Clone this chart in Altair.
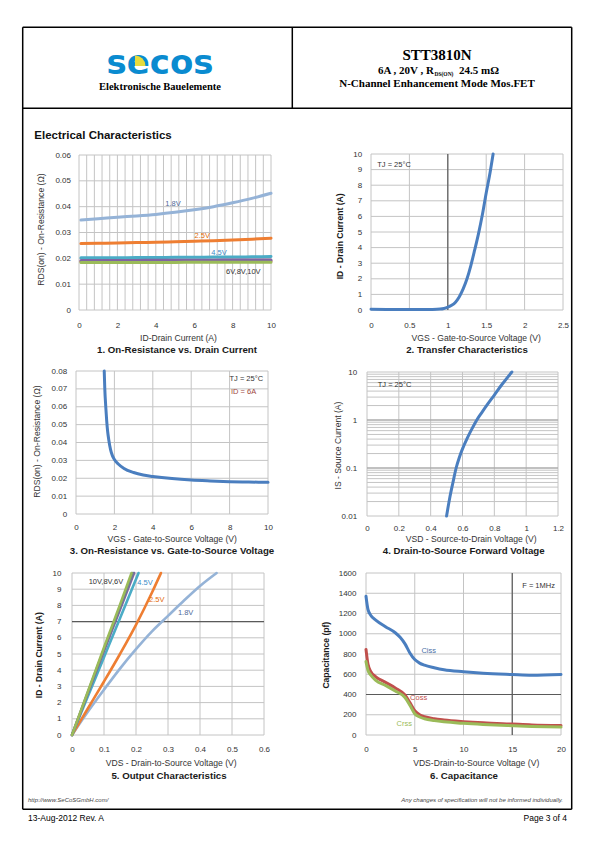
import altair as alt
import pandas as pd

W, H = 579, 826
SANS = "Liberation Sans"
SERIF = "Liberation Serif"
GRID = "#C4C4C4"
DARK = "#5A5A5A"
TXT = "#333333"

# ---------------- data ----------------
# 1. On-Resistance vs. Drain Current
c1_id = [0.1, 1, 2, 3, 4, 5, 6, 7, 8, 9, 10]
c1_r18 = [0.0348, 0.0353, 0.0359, 0.0364, 0.0370, 0.0378, 0.0388, 0.0400, 0.0415, 0.0432, 0.0452]
c1_r25 = [0.0257, 0.0258, 0.0259, 0.0261, 0.0262, 0.0264, 0.0266, 0.0268, 0.0271, 0.0274, 0.0278]
c1_r45 = [0.0202, 0.0202, 0.0202, 0.0203, 0.0203, 0.0204, 0.0204, 0.0205, 0.0205, 0.0206, 0.0207]
c1_r6 = [0.0192, 0.0192, 0.0192, 0.0192, 0.0193, 0.0193, 0.0193, 0.0193, 0.0194, 0.0194, 0.0194]
c1_r8 = [0.0188, 0.0188, 0.0188, 0.0188, 0.0188, 0.0189, 0.0189, 0.0189, 0.0189, 0.0190, 0.0190]
c1_r10 = [0.0184, 0.0184, 0.0184, 0.0184, 0.0184, 0.0184, 0.0185, 0.0185, 0.0185, 0.0185, 0.0185]
c1_xgrid = [0, 0.4, 0.8, 1.2, 1.6, 2, 2.4, 2.8, 3.2, 3.6, 4, 4.4, 4.8, 5.2, 5.6, 6, 6.4, 6.8,
            7.2, 7.6, 8, 8.4, 8.8, 9.2, 9.6, 10]
c1_xticks = [0, 2, 4, 6, 8, 10]
c1_yticks = [0, 0.01, 0.02, 0.03, 0.04, 0.05, 0.06]

# 2. Transfer Characteristics
c2_vgs = [0, 0.2, 0.4, 0.6, 0.8, 0.9, 0.95, 1.0, 1.05, 1.1, 1.15, 1.2, 1.25, 1.3, 1.35, 1.4,
          1.45, 1.5, 1.55, 1.59]
c2_id = [0.05, 0.04, 0.03, 0.03, 0.04, 0.06, 0.1, 0.18, 0.3, 0.5, 0.85, 1.35, 2.0, 2.85, 3.85,
         4.9, 6.1, 7.5, 8.8, 10.0]
c2_xticks = [0, 0.5, 1, 1.5, 2, 2.5]
c2_yticks = [0, 1, 2, 3, 4, 5, 6, 7, 8, 9, 10]

# 3. On-Resistance vs. Gate-to-Source Voltage
c3_vgs = [1.47, 1.5, 1.55, 1.6, 1.65, 1.7, 1.8, 1.9, 2.0, 2.2, 2.5, 3.0, 3.5, 4.0, 5.0, 6.0, 7.0,
          8.0, 9.0, 10.0]
c3_rds = [0.080, 0.070, 0.060, 0.052, 0.046, 0.042, 0.036, 0.0325, 0.0305, 0.028, 0.0255, 0.0232,
          0.0218, 0.021, 0.0198, 0.019, 0.0185, 0.0181, 0.0179, 0.0177]
c3_xticks = [0, 2, 4, 6, 8, 10]
c3_yticks = [0, 0.01, 0.02, 0.03, 0.04, 0.05, 0.06, 0.07, 0.08]

# 4. Drain-to-Source Forward Voltage
c4_vsd = [0.5, 0.52, 0.54, 0.56, 0.58, 0.6, 0.63, 0.66, 0.69, 0.72, 0.76, 0.8, 0.85, 0.91]
c4_is = [0.01, 0.024, 0.05, 0.1, 0.166, 0.25, 0.42, 0.66, 1.0, 1.41, 2.19, 3.31, 5.62, 10.0]
c4_xticks = [0, 0.2, 0.4, 0.6, 0.8, 1, 1.2]
c4_yticks = [0.01, 0.1, 1, 10]
c4_ygrid = [0.01, 0.02, 0.03, 0.04, 0.05, 0.06, 0.07, 0.08, 0.09,
            0.1, 0.2, 0.3, 0.4, 0.5, 0.6, 0.7, 0.8, 0.9,
            1, 2, 3, 4, 5, 6, 7, 8, 9, 10]

# 5. Output Characteristics
c5_v18 = [0, 0.05, 0.1, 0.15, 0.2, 0.25, 0.3, 0.35, 0.4, 0.452]
c5_i18 = [0, 1.45, 2.8, 4.1, 5.3, 6.4, 7.35, 8.3, 9.2, 10]
c5_v25 = [0, 0.05, 0.1, 0.15, 0.2, 0.25, 0.278]
c5_i25 = [0, 1.65, 3.3, 5.0, 6.8, 8.8, 10]
c5_v45 = [0, 0.05, 0.1, 0.15, 0.208]
c5_i45 = [0, 2.4, 4.8, 7.2, 10]
c5_v6 = [0, 0.05, 0.1, 0.15, 0.194]
c5_i6 = [0, 2.6, 5.2, 7.75, 10]
c5_v8 = [0, 0.05, 0.1, 0.15, 0.19]
c5_i8 = [0, 2.65, 5.3, 7.9, 10]
c5_v10 = [0, 0.05, 0.1, 0.15, 0.186]
c5_i10 = [0, 2.7, 5.4, 8.05, 10]
c5_xticks = [0, 0.1, 0.2, 0.3, 0.4, 0.5, 0.6]
c5_yticks = [0, 1, 2, 3, 4, 5, 6, 7, 8, 9, 10]

# 6. Capacitance
c6_v1 = [0, 0.2, 0.5, 1, 2, 3, 3.5, 4, 4.5, 5, 5.5, 6, 7, 8, 10, 12, 15, 17, 20]
c6_ciss = [1370, 1240, 1180, 1135, 1070, 1010, 965, 900, 810, 745, 710, 690, 665, 645, 625, 610,
           597, 590, 598]
c6_v2 = [0, 0.2, 0.5, 1, 2, 3, 4, 4.5, 5, 5.5, 6, 7, 8, 10, 12, 15, 17, 20]
c6_coss = [845, 700, 625, 575, 520, 465, 395, 320, 240, 200, 180, 160, 148, 132, 120, 108, 100, 95]
c6_crss = [725, 640, 590, 540, 490, 435, 370, 295, 210, 178, 160, 142, 130, 115, 104, 92, 85, 78]
c6_xticks = [0, 5, 10, 15, 20]
c6_yticks = [0, 200, 400, 600, 800, 1000, 1200, 1400, 1600]


# ---------------- helpers ----------------
def xaxis(ticks, title, tx, ty, ybot, pad):
    return alt.Axis(orient="bottom", offset=-(H - ybot), values=ticks, format="~r",
                    grid=False, ticks=False, domain=False, tickSize=0,
                    labelPadding=pad, labelBaseline="alphabetic", labelAlign="center",
                    labelFlush=False, labelOverlap=False, labelFont=SANS, labelFontSize=8,
                    labelColor=TXT, title=title, titleX=tx, titleY=ty, titleAngle=0,
                    titleAlign="center", titleBaseline="alphabetic", titleFont=SANS,
                    titleFontSize=8.6, titleFontWeight="normal", titleColor=TXT)


def yaxis(ticks, title, tx, ty, xleft, pad, bold=False):
    return alt.Axis(orient="left", offset=-xleft, values=ticks, format="~r",
                    grid=False, ticks=False, domain=False, tickSize=0,
                    labelPadding=pad, labelBaseline="middle", labelAlign="right",
                    labelFlush=False, labelOverlap=False, labelFont=SANS, labelFontSize=8,
                    labelColor=TXT, title=title, titleX=tx, titleY=ty, titleAngle=270,
                    titleAlign="center", titleBaseline="middle", titleFont=SANS,
                    titleFontSize=8.6, titleFontWeight="bold" if bold else "normal",
                    titleColor="#1a1a1a" if bold else TXT)


def panel(p, series, xgrid, ygrid, dark_x, dark_y, annots, ytype="linear", dark_color=DARK):
    xs = alt.Scale(domain=p["xdom"], range=p["xr"], nice=False, zero=False)
    ys = alt.Scale(type=ytype, domain=p["ydom"], range=p["yr"], nice=False, zero=False)
    xa = xaxis(p["xticks"], p["xtitle"], p["xtx"], p["xty"], p["yr"][0], p["xpad"])
    ya = yaxis(p["yticks"], p["ytitle"], p["ytx"], p["yty"], p["xr"][0], p["ypad"], p.get("ybold", False))

    def X(f):
        return alt.X(f + ":Q", scale=xs, axis=xa)

    def Y(f):
        return alt.Y(f + ":Q", scale=ys, axis=ya)

    layers = []

    def vlines(vals, color, w=1):
        df = pd.DataFrame({"x": vals, "y0": [p["ydom"][0]] * len(vals), "y1": [p["ydom"][1]] * len(vals)})
        return alt.Chart(df).mark_rule(color=color, strokeWidth=w).encode(x=X("x"), y=Y("y0"), y2=alt.Y2("y1"))

    def hlines(vals, color, w=1):
        df = pd.DataFrame({"y": vals, "x0": [p["xdom"][0]] * len(vals), "x1": [p["xdom"][1]] * len(vals)})
        return alt.Chart(df).mark_rule(color=color, strokeWidth=w).encode(y=Y("y"), x=X("x0"), x2=alt.X2("x1"))

    layers.append(vlines(xgrid, GRID))
    layers.append(hlines(ygrid, GRID))
    if dark_x:
        layers.append(vlines(dark_x, dark_color, 1.2))
    if dark_y:
        layers.append(hlines(dark_y, dark_color, 1.2))
    for xv, yv, color, w in series:
        df = pd.DataFrame({"x": xv, "y": yv})
        layers.append(alt.Chart(df).mark_line(color=color, strokeWidth=w, interpolate="monotone",
                                              strokeCap="round").encode(x=X("x"), y=Y("y")))
    if annots:
        df = pd.DataFrame(annots, columns=["x", "y", "t", "c"])
        layers.append(alt.Chart(df).mark_text(font=SANS, fontSize=7.5, align="center", baseline="middle")
                      .encode(x=X("x"), y=Y("y"), text="t:N", color=alt.Color("c:N", scale=None)))
    return alt.layer(*layers)


# ---------------- panels ----------------
P1 = dict(xdom=[0, 10], ydom=[0, 0.06], xr=[71, 263], yr=[302, 147], xticks=c1_xticks, yticks=c1_yticks,
          xtitle="ID-Drain Current (A)", xtx=170, xty=30, xpad=17,
          ytitle="RDS(on) - On-Resistance (Ω)", ytx=-39, yty=221, ypad=8.5)
ch1 = panel(P1,
            [(c1_id, c1_r18, "#95B3D7", 3), (c1_id, c1_r25, "#EE7E32", 3), (c1_id, c1_r45, "#4BACC6", 3),
             (c1_id, c1_r8, "#C0504D", 3), (c1_id, c1_r6, "#8064A2", 3), (c1_id, c1_r10, "#9BBB59", 3)],
            c1_xgrid, c1_yticks, None, None,
            [(4.9, 0.041, "1.8V", "#4F6A99"), (6.42, 0.0288, "2.5V", "#E46C0A"),
             (7.29, 0.0221, "4.5V", "#3C8DC8"), (8.56, 0.01455, "6V,8V,10V", "#333333")])

P2 = dict(xdom=[0, 2.5], ydom=[0, 10], xr=[363, 555], yr=[302, 146], xticks=c2_xticks, yticks=c2_yticks,
          xtitle="VGS - Gate-to-Source Voltage (V)", xtx=467.7, xty=30, xpad=17,
          ytitle="ID - Drain Current (A)", ytx=-31.7, yty=227.8, ypad=9.3, ybold=True)
ch2 = panel(P2, [(c2_vgs, c2_id, "#4A7EBF", 3)], c2_xticks, c2_yticks, [1], None,
            [(0.3, 9.3, "TJ = 25°C", "#333333")])

P3 = dict(xdom=[0, 10], ydom=[0, 0.08], xr=[68, 260], yr=[506, 363], xticks=c3_xticks, yticks=c3_yticks,
          xtitle="VGS - Gate-to-Source Voltage (V)", xtx=163.7, xty=27, xpad=15.3,
          ytitle="RDS(on) - On-Resistance (Ω)", ytx=-39.3, yty=433, ypad=9.3)
ch3 = panel(P3, [(c3_vgs, c3_rds, "#4A7EBF", 3)], c3_xticks, c3_yticks, None, None,
            [(8.87, 0.0755, "TJ = 25°C", "#333333"), (8.73, 0.0685, "ID = 6A", "#A0483C")])

P4 = dict(xdom=[0, 1.2], ydom=[0.01, 10], xr=[359, 550], yr=[508, 364], xticks=c4_xticks, yticks=c4_yticks,
          xtitle="VSD - Source-to-Drain Voltage (V)", xtx=462.7, xty=25, xpad=14,
          ytitle="IS - Source Current (A)", ytx=-29.3, yty=437, ypad=10.3)
ch4 = panel(P4, [(c4_vsd, c4_is, "#4A7EBF", 3)], c4_xticks, c4_ygrid, None, [0.1, 1],
            [(0.173, 5.46, "TJ = 25°C", "#333333")], ytype="log", dark_color="#A0A0A0")

P5 = dict(xdom=[0, 0.6], ydom=[0, 10], xr=[64, 256], yr=[727, 565], xticks=c5_xticks, yticks=c5_yticks,
          xtitle="VDS - Drain-to-Source Voltage (V)", xtx=162.7, xty=30.7, xpad=16,
          ytitle="ID - Drain Current (A)", ytx=-33.7, yty=646.7, ypad=11, ybold=True)
ch5 = panel(P5,
            [(c5_v18, c5_i18, "#95B3D7", 2.6), (c5_v25, c5_i25, "#EE7E32", 2.6), (c5_v45, c5_i45, "#4BACC6", 2.6),
             (c5_v6, c5_i6, "#8064A2", 2.6), (c5_v8, c5_i8, "#6E7F8F", 2.6), (c5_v10, c5_i10, "#9BBB59", 2.6)],
            c5_xticks, c5_yticks, None, [7],
            [(0.106, 9.42, "10V,8V,6V", "#333333"), (0.228, 9.38, "4.5V", "#3C8DC8"),
             (0.265, 8.31, "2.5V", "#E46C0A"), (0.355, 7.53, "1.8V", "#4F6A99")])

P6 = dict(xdom=[0, 20], ydom=[0, 1600], xr=[358, 553], yr=[727, 565], xticks=c6_xticks, yticks=c6_yticks,
          xtitle="VDS-Drain-to-Source Voltage (V)", xtx=467.7, xty=30.7, xpad=16,
          ytitle="Capacitance (pf)", ytx=-41, yty=646.7, ypad=10, ybold=True)
ch6 = panel(P6,
            [(c6_v1, c6_ciss, "#4A7EBF", 3), (c6_v2, c6_coss, "#C0504D", 3), (c6_v2, c6_crss, "#9BBB59", 3)],
            c6_xticks, c6_yticks, [15], [400],
            [(17.7, 1475, "F = 1MHz", "#333333"), (6.43, 825, "Ciss", "#4A6FA5"),
             (5.4, 370, "Coss", "#C0504D"), (3.93, 109, "Crss", "#9BBB59")])

# ---------------- page furniture ----------------
one = pd.DataFrame({"k": [0]})


def rule(x1, x2, y1, y2, w=1.5):
    return alt.Chart(one).mark_rule(color="black", strokeWidth=w).encode(
        x=alt.value(x1), x2=alt.value(x2), y=alt.value(y1), y2=alt.value(y2))


def txt(s, x, y, size, font=SANS, weight="normal", align="left", color="black", style="normal"):
    return alt.Chart(one).mark_text(text=s, fontSize=size, font=font, fontWeight=weight, align=align,
                                    baseline="alphabetic", color=color, fontStyle=style).encode(
        x=alt.value(x), y=alt.value(y))


L, R, T, B = 14.7, 563.7, 19.3, 801.3
page = [
    rule(L, R, T, T), rule(L, R, B, B), rule(L, L, T, B), rule(R, R, T, B),
    rule(L, R, 100.3, 100.3), rule(284.3, 284.3, T, 100.3),
    txt("secos", 152, 66, 34, font="DejaVu Sans", weight="bold", align="center", color="#0A8BD0"),
    alt.Chart(one).mark_arc(radius=10.5, theta=0, theta2=1.5708, color="#E6DC3C").encode(
        x=alt.value(127), y=alt.value(58)),
    txt("Elektronische Bauelemente", 152, 81.5, 10.5, font=SERIF, weight="bold", align="center"),
    txt("STT3810N", 429, 52, 15, font=SERIF, weight="bold", align="center"),
    txt("6A , 20V , R", 426, 66, 11, font=SERIF, weight="bold", align="right"),
    txt("DS(ON)", 426.5, 67.5, 5.5, font=SERIF, weight="bold", align="left"),
    txt("24.5 mΩ", 451, 66, 11, font=SERIF, weight="bold", align="left"),
    txt("N-Channel Enhancement Mode Mos.FET", 429, 78.7, 11, font=SERIF, weight="bold", align="center"),
    txt("Electrical Characteristics", 26.3, 131, 11.5, weight="bold", color="#111111"),
    txt("1. On-Resistance vs. Drain Current", 169, 345, 9.7, weight="bold", align="center", color="#1a1a1a"),
    txt("2. Transfer Characteristics", 459, 345, 9.7, weight="bold", align="center", color="#1a1a1a"),
    txt("3. On-Resistance vs. Gate-to-Source Voltage", 164, 545.7, 9.7, weight="bold", align="center", color="#1a1a1a"),
    txt("4. Drain-to-Source Forward Voltage", 455.7, 545.7, 9.7, weight="bold", align="center", color="#1a1a1a"),
    txt("5. Output Characteristics", 161, 771, 9.7, weight="bold", align="center", color="#1a1a1a"),
    txt("6. Capacitance", 456, 771, 9.7, weight="bold", align="center", color="#1a1a1a"),
    txt("http://www.SeCoSGmbH.com/", 20, 794, 6, style="italic", color="#444444"),
    txt("Any changes of specification will not be informed individually.", 555, 794, 6, style="italic",
        align="right", color="#444444"),
    txt("13-Aug-2012 Rev. A", 20, 813, 8.5),
    txt("Page 3 of 4", 559, 813, 8.5, align="right"),
]

chart = alt.layer(*page, ch1, ch2, ch3, ch4, ch5, ch6).resolve_scale(
    x="independent", y="independent"
).properties(
    width=W, height=H, autosize=alt.AutoSizeParams(type="none"), padding=0, background="white"
).configure_view(strokeWidth=0)

chart.save("out.html", embed_options={"renderer": "svg", "actions": False})
